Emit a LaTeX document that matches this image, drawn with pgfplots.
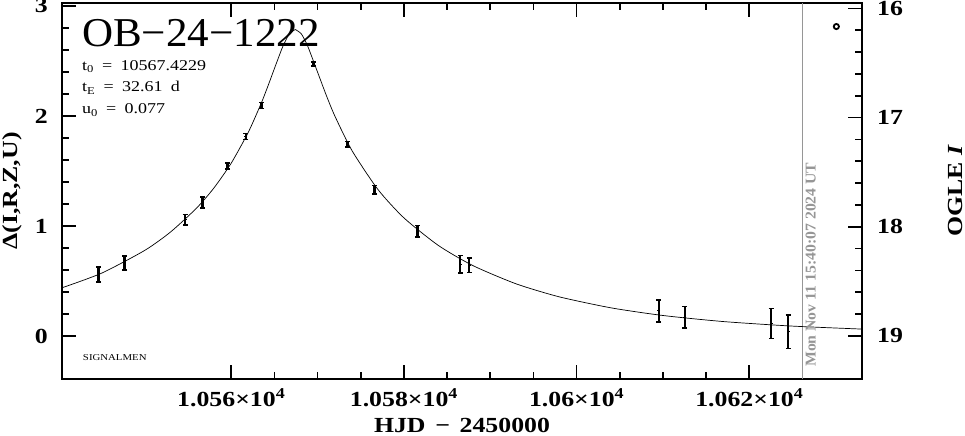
\documentclass[border=0pt]{standalone}
\usepackage{pgfplots}
\pgfplotsset{compat=1.18}
\usepackage{pgfplotstable}
\usepackage{fontspec}
\setmainfont{Liberation Serif}[FakeStretch=1.2]
\newfontfamily\titlefont{Liberation Serif}[FakeStretch=1.05]
\definecolor{stampgray}{RGB}{150,150,150}
\newcommand{\tickfont}{\bfseries\fontsize{21.5bp}{21.5bp}\selectfont}

\pgfplotstableread{
t d e
10544.63 0.559 0.068
10547.64 0.665 0.064
10554.67 1.058 0.048
10556.68 1.215 0.050
10559.57 1.544 0.027
10561.70 1.813 0.027
10563.51 2.094 0.027
10569.53 2.472 0.020
10573.47 1.741 0.025
10576.60 1.330 0.040
10581.58 0.952 0.054
10586.53 0.653 0.080
10587.57 0.641 0.066
10609.50 0.229 0.100
10612.51 0.170 0.098
10622.52 0.115 0.136
10624.49 0.039 0.154
}\datatable

\pgfplotstableread{
t d
10540.4 0.4381
10545 0.5715
10550 0.7789
10553 0.9471
10556 1.1638
10558 1.3461
10560 1.5713
10562 1.8558
10563.5 2.1212
10564.3 2.2824
10565 2.4312
10565.7 2.5779
10566 2.6358
10566.7 2.7432
10567.42 2.7862
}\modelleft

\pgfplotstableread{
t d
10567.42 2.7862
10568.1 2.7483
10568.7 2.6619
10569 2.6066
10570 2.3981
10571 2.1894
10572 1.9995
10574 1.6832
10577 1.3307
10580 1.0735
10584 0.8223
10588 0.6394
10593 0.4738
10598 0.3556
10604 0.2556
10610 0.1863
10617 0.1311
10625 0.0898
10633.05 0.0628
}\modelright

\begin{document}
\begin{tikzpicture}
\path[use as bounding box] (-62bp,-57bp) rectangle (903bp,379bp);
\begin{axis}[
  at={(0,0)}, anchor=south west,
  scale only axis, width=800bp, height=376bp,
  xmin=10540.4, xmax=10633.05, ymin=-0.391, ymax=3.027,
  axis line style={line width=1.7bp},
  tick align=inside,
  every tick/.style={black, line width=1.7bp},
  major tick length=14bp, minor tick length=7bp,
  xtick={10560,10580,10600,10620},
  xticklabels={1.056×10\textsuperscript{4}, 1.058×10\textsuperscript{4}, 1.06×10\textsuperscript{4}, 1.062×10\textsuperscript{4}},
  minor x tick num=3,
  xtick pos=both,
  ytick={0,1,2,3}, yticklabels={0,1,2,3},
  minor y tick num=4,
  ytick pos=left,
  xticklabel style={font=\tickfont, anchor=base, yshift=-27bp, inner sep=0pt},
  yticklabel style={font=\tickfont, anchor=east, xshift=-14bp, inner sep=0pt},
  xlabel={HJD\hspace{0.45em}−\hspace{0.45em}2450000},
  xlabel style={font=\tickfont, at={(axis description cs:0.5,-0.1436)}, anchor=base, inner sep=0pt},
  ylabel={Δ(I,R,Z,U)},
  ylabel style={font=\tickfont, at={(axis description cs:-0.0625,0.5)}, anchor=center, inner sep=0pt},
]
\draw[stampgray, line width=1bp] (axis cs:10626.18,-0.391) -- (axis cs:10626.18,3.027);
\addplot[black, line width=0.7bp, smooth, tension=0.4] table[x=t, y=d] {\modelleft};
\addplot[black, line width=0.7bp, smooth, tension=0.4] table[x=t, y=d] {\modelright};
\addplot[black, only marks, mark=-, mark size=1.5bp, line width=1.2bp,
  error bars/.cd, y dir=both, y explicit,
  error bar style={line width=2.2bp},
  error mark options={rotate=90, mark size=2.5bp, line width=1.5bp}]
  table[x=t, y=d, y error=e] {\datatable};
\addplot[black, only marks, mark=o, mark size=2.6bp, line width=1.8bp] coordinates {(10630.08,2.813)};
\node[anchor=base west, inner sep=0pt, font=\titlefont\fontsize{41bp}{41bp}\selectfont] at (rel axis cs:0.025,0.883) {OB−24−1222};
\node[anchor=base west, inner sep=0pt, font=\fontsize{15bp}{15bp}\selectfont] at (rel axis cs:0.025,0.8218) {t\textsubscript{0}\hspace{0.55em}=\hspace{0.55em}10567.4229};
\node[anchor=base west, inner sep=0pt, font=\fontsize{15bp}{15bp}\selectfont] at (rel axis cs:0.025,0.7633) {t\textsubscript{E}\hspace{0.55em}=\hspace{0.55em}32.61\hspace{0.55em}d};
\node[anchor=base west, inner sep=0pt, font=\fontsize{15bp}{15bp}\selectfont] at (rel axis cs:0.025,0.7048) {u\textsubscript{0}\hspace{0.55em}=\hspace{0.55em}0.077};
\node[anchor=base west, inner sep=0pt, font=\fontsize{9bp}{9bp}\selectfont] at (rel axis cs:0.026,0.0479) {SIGNALMEN};
\node[rotate=90, anchor=north west, inner sep=0pt, text=stampgray, font=\titlefont\bfseries\fontsize{15bp}{15bp}\selectfont] at (axis cs:10626.5,-0.282) {Mon Nov 11 15:40:07 2024 UT};
\end{axis}
\begin{axis}[
  at={(0,0)}, anchor=south west,
  scale only axis, width=800bp, height=376bp,
  xmin=10540.4, xmax=10633.05, ymin=15.951, ymax=19.394, y dir=reverse,
  xtick=\empty, hide x axis, axis y line*=right,
  axis line style={line width=1.7bp},
  tick align=inside,
  every tick/.style={black, line width=1.7bp},
  major tick length=14bp, minor tick length=7bp,
  ytick={16,17,18,19}, yticklabels={16,17,18,19},
  minor y tick num=4,
  yticklabel style={font=\tickfont, anchor=west, xshift=15bp, inner sep=0pt},
  ylabel={OGLE \textit{I}},
  ylabel style={font=\tickfont, at={(axis description cs:1.11625,0.5)}, anchor=center, inner sep=0pt},
]
\end{axis}
\end{tikzpicture}
\end{document}
